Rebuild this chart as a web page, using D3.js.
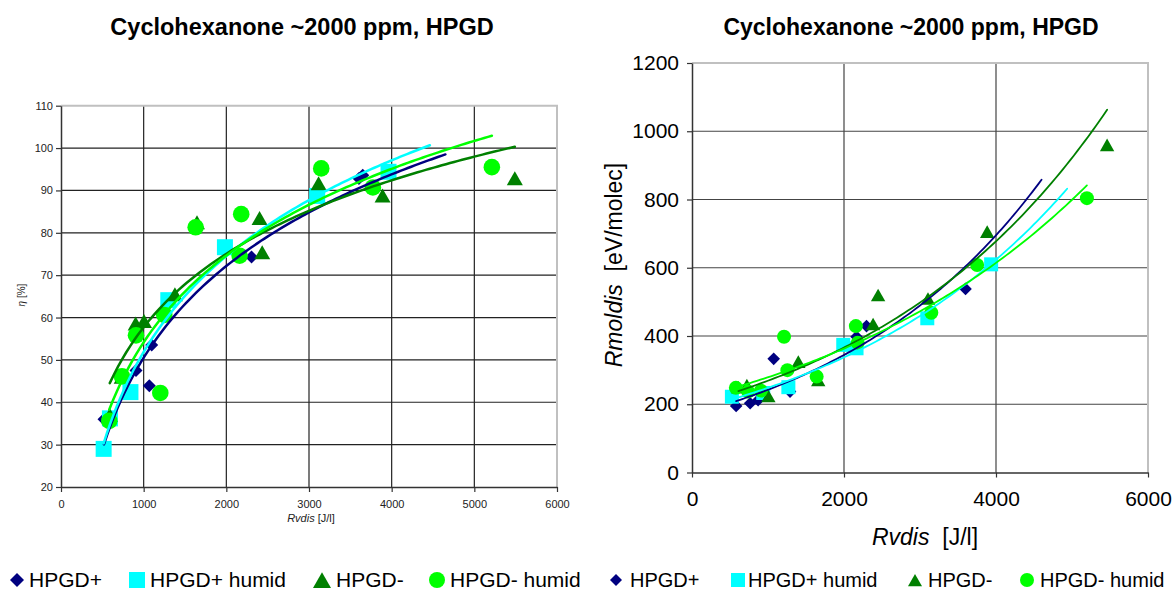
<!DOCTYPE html>
<html><head><meta charset="utf-8">
<script src="https://cdn.jsdelivr.net/npm/d3@7/dist/d3.min.js"></script>
<style>
body{margin:0;background:#fff}
svg{display:block;font-family:Arial,"Liberation Sans",sans-serif}
</style>
</head><body>
<svg id="chart" width="1173" height="590"></svg>
<script>
// ---------- series definitions ----------
const seriesNames  = ["HPGD+", "HPGD+ humid", "HPGD-", "HPGD- humid"];
const seriesColors = ["#000080", "#00ffff", "#008000", "#00ff00"];
const seriesShapes = ["diamond", "square", "triangle", "circle"];

// ---------- left chart: eta [%] vs Rvdis [J/l] ----------
const etaX_HPGDp  = [520, 907, 1097, 1068, 2305, 3604, 3650];
const etaY_HPGDp  = [36, 47.5, 53.5, 43.9, 74.3, 92.8, 93.6];
const etaX_HPGDpH = [516, 592, 840, 1298, 1983, 3099, 3962];
const etaY_HPGDpH = [29, 36.2, 42.4, 64.1, 76.6, 88.7, 94.4];
const etaX_HPGDm  = [590, 734, 903, 1004, 1378, 1645, 2402, 2434, 3116, 3890, 5490];
const etaY_HPGDm  = [37, 46, 58.6, 59.2, 65.5, 82.5, 83.5, 75.4, 91.7, 88.8, 92.9];
const etaX_HPGDmH = [584, 738, 907, 1201, 1249, 1629, 2161, 2180, 3148, 3773, 5212];
const etaY_HPGDmH = [35.6, 46.1, 55.8, 42.2, 60.6, 81.3, 74.6, 84.4, 95.2, 90.7, 95.5];
const etaTrendForward = [1000, 500, 0, 0];      // trendline forecast (J/l)
const etaXTicks = [0, 1000, 2000, 3000, 4000, 5000, 6000];
const etaYTicks = [20, 30, 40, 50, 60, 70, 80, 90, 100, 110];

// ---------- right chart: Rmoldis [eV/molec] vs Rvdis [J/l] ----------
const rmX_HPGDp  = [581, 765, 870, 1075, 1290, 2165, 2296, 3599];
const rmY_HPGDp  = [195, 203, 212, 333, 237, 398, 429, 538];
const rmX_HPGDpH = [525, 937, 1268, 1990, 2165, 3096, 3936];
const rmY_HPGDpH = [222, 233, 250, 374, 364, 452, 610];
const rmX_HPGDm  = [610, 722, 1005, 1399, 1661, 2383, 2449, 3105, 3884, 5462];
const rmY_HPGDm  = [250, 256, 224, 325, 271, 435, 520, 510, 706, 960];
const rmX_HPGDmH = [577, 738, 907, 1211, 1255, 1640, 2156, 2180, 3149, 3752, 5196];
const rmY_HPGDmH = [248, 237, 240, 398, 300, 281, 429, 380, 468, 608, 804];
const rmTrendForward = [1000, 1000, 0, 0];
const rmXTicks = [0, 2000, 4000, 6000];
const rmYTicks = [0, 200, 400, 600, 800, 1000, 1200];

const titleText = "Cyclohexanone ~2000 ppm, HPGD";

const etaSeries = [[etaX_HPGDp, etaY_HPGDp], [etaX_HPGDpH, etaY_HPGDpH], [etaX_HPGDm, etaY_HPGDm], [etaX_HPGDmH, etaY_HPGDmH]];
const rmSeries  = [[rmX_HPGDp, rmY_HPGDp], [rmX_HPGDpH, rmY_HPGDpH], [rmX_HPGDm, rmY_HPGDm], [rmX_HPGDmH, rmY_HPGDmH]];

// ---------- helpers ----------
function shapePath(shape, s) {
  switch (shape) {
    case "diamond": return `M0,${-s}L${s},0L0,${s}L${-s},0Z`;
    case "square": return `M${-s},${-s}H${s}V${s}H${-s}Z`;
    case "triangle": { const h = s * 1.75; return `M0,${-h/2}L${s},${h/2}L${-s},${h/2}Z`; }
    default: return `M${s},0A${s},${s} 0 1,1 ${-s},0A${s},${s} 0 1,1 ${s},0Z`;
  }
}
// least squares of y on x
function linfit(xs, ys) {
  const mx = d3.mean(xs), my = d3.mean(ys);
  let sxy = 0, sxx = 0;
  xs.forEach((x, i) => { sxy += (x - mx) * (ys[i] - my); sxx += (x - mx) * (x - mx); });
  const a = sxy / sxx; return [a, my - a * mx];
}
// Excel logarithmic trendline: y = a ln x + b
function logTrend(xs, ys) {
  const [a, b] = linfit(xs.map(Math.log), ys);
  return x => a * Math.log(x) + b;
}
// Excel exponential trendline: y = A e^{kx}
function expTrend(xs, ys) {
  const [k, c] = linfit(xs, ys.map(Math.log));
  return x => Math.exp(c) * Math.exp(k * x);
}

const svg = d3.select("#chart");

function drawChart(cfg) {
  const { x, y, xTicks, yTicks, series, trend, forward, marker, lineW, gridColor,
          tickFont, tickColor } = cfg;
  const g = svg.append("g");
  const [x0, x1] = x.range(), [y0, y1] = y.range();
  // gridlines
  g.selectAll(".gy").data(yTicks.slice(1, -1)).join("line")
    .attr("x1", x0).attr("x2", x1).attr("y1", d => y(d)).attr("y2", d => y(d))
    .attr("stroke", gridColor).attr("stroke-width", 1.2);
  g.selectAll(".gx").data(xTicks.slice(1, -1)).join("line")
    .attr("y1", y0).attr("y2", y1).attr("x1", d => x(d)).attr("x2", d => x(d))
    .attr("stroke", gridColor).attr("stroke-width", 1.2);
  // plot border (top/right light gray)
  g.append("path").attr("d", `M${x0},${y1}H${x1}V${y0}`)
    .attr("fill", "none").attr("stroke", "#c0c0c0").attr("stroke-width", 2);
  // axes
  const ax = g.append("g").attr("transform", `translate(0,${y0})`)
    .call(d3.axisBottom(x).tickValues(xTicks).tickFormat(d3.format("d")).tickSize(5).tickSizeOuter(0).tickPadding(cfg.xPad));
  const ay = g.append("g").attr("transform", `translate(${x0},0)`)
    .call(d3.axisLeft(y).tickValues(yTicks).tickFormat(d3.format("d")).tickSize(5).tickSizeOuter(0).tickPadding(cfg.yPad));
  [ax, ay].forEach(a => {
    a.select(".domain").attr("stroke", "#333").attr("stroke-width", 1.5);
    a.selectAll(".tick line").attr("stroke", "#333").attr("stroke-width", 1.2);
    a.selectAll(".tick text").attr("font-size", tickFont).attr("fill", tickColor)
      .attr("font-family", "Arial, 'Liberation Sans', sans-serif");
  });
  // markers
  series.forEach(([xs, ys], si) => {
    g.append("g").selectAll("path").data(xs.map((v, i) => [v, ys[i]])).join("path")
      .attr("d", shapePath(seriesShapes[si], marker[si]))
      .attr("transform", d => `translate(${x(d[0])},${y(d[1])})`)
      .attr("fill", seriesColors[si]);
  });
  // trendlines
  series.forEach(([xs, ys], si) => {
    const f = trend(xs, ys);
    const lo = d3.min(xs), hi = d3.max(xs) + forward[si];
    const pts = d3.range(0, 101).map(i => lo + (hi - lo) * i / 100);
    g.append("path")
      .attr("d", d3.line().x(v => x(v)).y(v => y(f(v)))(pts))
      .attr("fill", "none").attr("stroke", seriesColors[si]).attr("stroke-width", lineW)
      .attr("stroke-linecap", "round");
  });
  return g;
}

// ---------- left chart ----------
const xL = d3.scaleLinear().domain([0, 6000]).range([61, 557]);
const yL = d3.scaleLinear().domain([20, 110]).range([487, 105.7]);
drawChart({ x: xL, y: yL, xTicks: etaXTicks, yTicks: etaYTicks, series: etaSeries,
  trend: logTrend, forward: etaTrendForward, marker: [6.5, 8, 8, 8.3], lineW: 2.5,
  gridColor: "#222", tickFont: 11, tickColor: "#222", xPad: 8, yPad: 3 });

svg.append("text").attr("x", 302).attr("y", 35).attr("text-anchor", "middle")
  .attr("font-weight", "bold").attr("font-size", 23.5).text(titleText);
svg.append("text").attr("transform", "translate(25,295) rotate(-90)").attr("text-anchor", "middle")
  .attr("font-size", 10).attr("fill", "#222")
  .call(t => { t.append("tspan").attr("font-style", "italic").text("η"); t.append("tspan").text(" [%]"); });
svg.append("text").attr("x", 311).attr("y", 522).attr("text-anchor", "middle")
  .attr("font-size", 11).attr("fill", "#222")
  .call(t => { t.append("tspan").attr("font-style", "italic").text("Rvdis"); t.append("tspan").text(" [J/l]"); });

// ---------- right chart ----------
const xR = d3.scaleLinear().domain([0, 6000]).range([692, 1148]);
const yR = d3.scaleLinear().domain([0, 1200]).range([472.5, 63]);
drawChart({ x: xR, y: yR, xTicks: rmXTicks, yTicks: rmYTicks, series: rmSeries,
  trend: expTrend, forward: rmTrendForward, marker: [6.3, 7, 7.2, 7], lineW: 1.8,
  gridColor: "#444", tickFont: 21, tickColor: "#000", xPad: 14, yPad: 8 });

svg.append("text").attr("x", 911).attr("y", 35).attr("text-anchor", "middle")
  .attr("font-weight", "bold").attr("font-size", 23).text(titleText);
svg.append("text").attr("transform", "translate(622,265) rotate(-90)").attr("text-anchor", "middle")
  .attr("font-size", 23)
  .call(t => { t.append("tspan").attr("font-style", "italic").text("Rmoldis"); t.append("tspan").text("\u00a0 [eV/molec]"); });
svg.append("text").attr("x", 925).attr("y", 545).attr("text-anchor", "middle")
  .attr("font-size", 23)
  .call(t => { t.append("tspan").attr("font-style", "italic").text("Rvdis"); t.append("tspan").text("\u00a0 [J/l]"); });

// ---------- legends ----------
function legend(items, fontSize, sizes) {
  items.forEach((it, i) => {
    svg.append("path").attr("d", shapePath(seriesShapes[i], sizes[i]))
      .attr("transform", `translate(${it[0]},580)`).attr("fill", seriesColors[i]);
    svg.append("text").attr("x", it[1]).attr("y", 587).attr("font-size", fontSize)
      .text(seriesNames[i]);
  });
}
legend([[17, 29], [137, 150], [322, 336], [437, 450]], 21, [7, 8, 9, 8]);
legend([[616, 630], [738, 748], [915, 928], [1027, 1040]], 20, [6, 7, 7, 7]);
</script>
</body></html>
